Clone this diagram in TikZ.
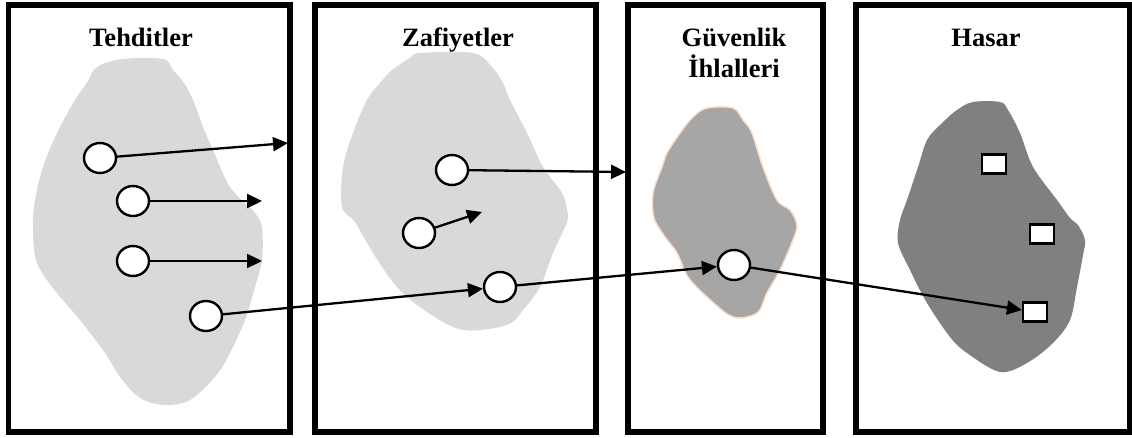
\documentclass[tikz,border=0pt]{standalone}
\usepackage{fontspec}
\setmainfont{Liberation Serif}
\usetikzlibrary{arrows.meta,shapes.geometric}
\definecolor{lightblob}{HTML}{D9D9D9}
\definecolor{midblob}{HTML}{A6A6A6}
\definecolor{darkblob}{HTML}{808080}
\definecolor{peach}{HTML}{FBDFCB}
\begin{document}
\begin{tikzpicture}[x=1pt,y=-1pt,
  panel/.style={draw=black,line width=5.5pt},
  dot/.style={ellipse,draw=black,fill=white,line width=2.4pt,minimum width=32pt,minimum height=30pt,inner sep=0pt},
  box/.style={rectangle,draw=black,fill=white,line width=2.2pt,minimum width=24pt,minimum height=19pt,inner sep=0pt},
  link/.style={line width=2.3pt,-{Triangle[length=15pt,width=14pt]}},
  title/.style={font=\bfseries\fontsize{26.5}{31}\selectfont,anchor=base,inner sep=0pt},
  blob/.style={smooth cycle,tension=0.55}]
\useasboundingbox (0,0) rectangle (1132,438);
% blobs
\fill[lightblob] plot[blob] coordinates {(123,59) (163,59) (173,70) (184,83) (193,100) (203,127) (213,150) (230,187) (255,213) (262,228) (262,260) (255,287) (245,320) (230,353) (215,377) (190,400) (165,405) (140,398) (120,377) (105,353) (80,320) (52,287) (36,260) (33,225) (35,200) (43,167) (57,133) (75,100) (87,83) (97,67)};
\fill[lightblob] plot[blob] coordinates {(420,53) (473,53) (492,67) (503,83) (510,100) (527,133) (543,167) (562,193) (567,210) (567,222) (553,253) (540,287) (523,310) (507,325) (463,330) (427,312) (397,287) (373,253) (355,222) (342,207) (343,167) (353,133) (367,100) (380,83) (392,70) (410,58)};
\filldraw[fill=midblob,draw=peach,line width=1.5pt] plot[blob] coordinates {(707,108) (733,108) (743,120) (752,133) (763,167) (777,200) (790,210) (797,225) (793,240) (780,270) (767,293) (757,313) (733,317) (707,297) (688,277) (677,253) (665,237) (654,218) (653,193) (662,167) (667,153) (680,133) (693,117)};
\fill[darkblob] plot[blob] coordinates {(973,102) (1000,102) (1008,110) (1020,133) (1033,167) (1057,200) (1070,218) (1078,225) (1085,240) (1083,255) (1077,287) (1070,320) (1053,343) (1027,363) (1000,372) (967,353) (950,337) (927,303) (910,270) (898,243) (900,220) (907,200) (918,167) (927,140) (940,125) (957,110)};
% panels
\draw[panel] (8.5,5) rectangle (290,432);
\draw[panel] (315,5) rectangle (596,432);
\draw[panel] (628,5) rectangle (823,432);
\draw[panel] (856,5) rectangle (1130,432);
% titles
\node[title] (t1) at (141,47) {Tehditler};
\node[title] (t2) at (458,47) {Zafiyetler};
\node[title] (t3a) at (734,47) {Güvenlik};
\node[title] (t3b) at (734,78) {İhlalleri};
\node[title] (t4) at (986,47) {Hasar};
% nodes
\node[dot] (c1) at (100,158) {};
\node[dot] (c2) at (133,201) {};
\node[dot] (c3) at (133,261) {};
\node[dot] (c4) at (206,316) {};
\node[dot] (c5) at (452,170) {};
\node[dot] (c6) at (419,233) {};
\node[dot] (c7) at (500,287) {};
\node[dot] (c8) at (734,265) {};
\node[box] (r1) at (994,164) {};
\node[box] (r2) at (1042,234) {};
\node[box] (r3) at (1035,312) {};
\coordinate (e1) at (288,143);
\coordinate (e2) at (262,201);
\coordinate (e3) at (262,261);
\coordinate (e5) at (626,172);
\coordinate (e6) at (482,212);
% connectors
\draw[link] (c1) -- (e1);
\draw[link] (c2) -- (e2);
\draw[link] (c3) -- (e3);
\draw[link] (c4) -- (c7);
\draw[link] (c5) -- (e5);
\draw[link] (c6) -- (e6);
\draw[link] (c7) -- (c8);
\draw[link] (c8) -- (r3);
\end{tikzpicture}
\end{document}
